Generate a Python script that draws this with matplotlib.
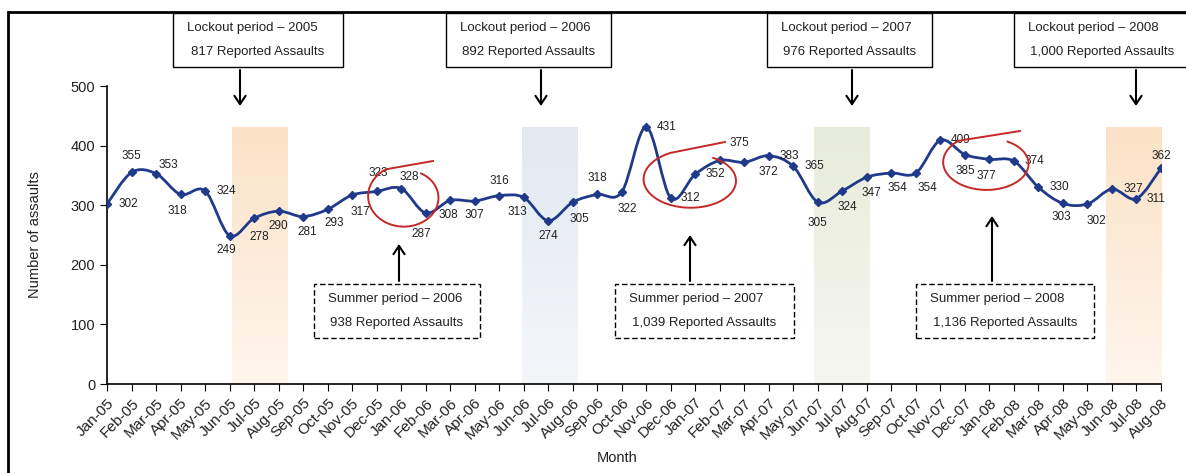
import numpy as np
import matplotlib.pyplot as plt
from matplotlib.path import Path
from matplotlib.patches import PathPatch, Rectangle
from matplotlib.lines import Line2D

plt.rcParams['font.family'] = ['Liberation Sans', 'DejaVu Sans']

W, H = 1186, 473

months = ['Jan-05', 'Feb-05', 'Mar-05', 'Apr-05', 'May-05', 'Jun-05', 'Jul-05', 'Aug-05',
          'Sep-05', 'Oct-05', 'Nov-05', 'Dec-05', 'Jan-06', 'Feb-06', 'Mar-06', 'Apr-06',
          'May-06', 'Jun-06', 'Jul-06', 'Aug-06', 'Sep-06', 'Oct-06', 'Nov-06', 'Dec-06',
          'Jan-07', 'Feb-07', 'Mar-07', 'Apr-07', 'May-07', 'Jun-07', 'Jul-07', 'Aug-07',
          'Sep-07', 'Oct-07', 'Nov-07', 'Dec-07', 'Jan-08', 'Feb-08', 'Mar-08', 'Apr-08',
          'May-08', 'Jun-08', 'Jul-08', 'Aug-08']
assaults = [302, 355, 353, 318, 324, 249, 278, 290, 281, 293, 317, 323, 328, 287, 308, 307,
            316, 313, 274, 305, 318, 322, 431, 312, 352, 375, 372, 383, 365, 305, 324, 347,
            354, 354, 409, 385, 377, 374, 330, 303, 302, 327, 311, 362]

# label offsets (pixels) for each data label
lab_dx = [21, 0, 12, -3, 21, -3, 5, 0, 4, 7, 8, 2, 8, -4, -2, 0, 0, -6, 0, 7, 0, 6,
          20, 20, 20, 20, 24, 20, 21, 0, 5, 5, 6, 12, 20, 0, -3, 20, 21, -2, 9, 21, 19, 0]
lab_dy = [0, 16, 9, -17, 0, -14, -19, -15, -15, -14, -17, 18, 12, -21, -15, -14, 15, -15,
          -15, -17, 16, -17, 0, 0, 0, 18, -10, 0, 0, -21, -16, -16, -15, -15, 0, -16, -17,
          0, 0, -14, -17, 0, 0, 12]

# shaded lockout periods (start index, colour top, colour bottom)
band_start = [5.1, 16.95, 28.83, 40.75]
band_top = ['#fbe2c6', '#e3e8f1', '#e8ecda', '#fbe2c6']
band_bot = ['#fff6ed', '#f4f6fa', '#f6f7f0', '#fff6ed']

lockout_titles = ['Lockout period \u2013 2005', 'Lockout period \u2013 2006',
                  'Lockout period \u2013 2007', 'Lockout period \u2013 2008']
lockout_counts = ['817 Reported Assaults', '892 Reported Assaults',
                  '976 Reported Assaults', '1,000 Reported Assaults']
summer_titles = ['Summer period \u2013 2006', 'Summer period \u2013 2007',
                 'Summer period \u2013 2008']
summer_counts = ['938 Reported Assaults', '1,039 Reported Assaults',
                 '1,136 Reported Assaults']

navy = '#1f3a8a'
txt = '#222222'

fig = plt.figure(figsize=(W / 100, H / 100), dpi=100)
ax = fig.add_axes([107 / W, (H - 384) / H, (1161 - 107) / W, (384 - 86) / H])

x = np.arange(len(assaults))
y = np.array(assaults, dtype=float)

# gradient bands
for s, ct, cb in zip(band_start, band_top, band_bot):
    c0 = np.array(plt.matplotlib.colors.to_rgb(ct))
    c1 = np.array(plt.matplotlib.colors.to_rgb(cb))
    t = np.linspace(0, 1, 100)[:, None]
    img = (c0 * (1 - t) + c1 * t)[:, None, :]
    ax.imshow(img, extent=(s, s + 2.27, 0, 430), aspect='auto', zorder=0,
              interpolation='bilinear')

# smoothed line (bezier through the points, like a spreadsheet smooth line)
pts = np.column_stack([x, y])
ext = np.vstack([pts[0], pts, pts[-1]])
verts = [pts[0]]
codes = [Path.MOVETO]
for i in range(len(pts) - 1):
    p0, p1, p2, p3 = ext[i], ext[i + 1], ext[i + 2], ext[i + 3]
    verts += [p1 + (p2 - p0) / 6, p2 - (p3 - p1) / 6, p2]
    codes += [Path.CURVE4] * 3
ax.add_patch(PathPatch(Path(verts, codes), fill=False, edgecolor=navy, lw=2, zorder=3))
ax.plot(x, y, 'D', color=navy, ms=4.5, zorder=4)

for xi, yi, dx, dy in zip(x, assaults, lab_dx, lab_dy):
    ax.annotate(str(yi), (xi, yi), xytext=(dx, dy), textcoords='offset pixels',
                ha='center', va='center', fontsize=8.5, color=txt, zorder=5)

ax.set_xlim(0, 43)
ax.set_ylim(0, 500)
ax.set_yticks(range(0, 501, 100))
ax.set_xticks(x)
ax.set_xticklabels(months, rotation=45, ha='right', rotation_mode='anchor')
ax.tick_params(axis='x', labelsize=11, length=5, colors='black', labelcolor=txt)
ax.tick_params(axis='y', labelsize=10.5, length=5, colors='black', labelcolor=txt)
for side in ['top', 'right']:
    ax.spines[side].set_visible(False)
for side in ['left', 'bottom']:
    ax.spines[side].set_linewidth(1.2)

fig.text(35 / W, 1 - 235 / H, 'Number of assaults', rotation=90, ha='center', va='center',
         fontsize=10.5, color=txt)
fig.text(617 / W, 1 - 458 / H, 'Month', ha='center', va='center', fontsize=10.5, color=txt)

# outer frame
fig.add_artist(Rectangle((8 / W, -0.1), 1.2, 1.1 - 12 / H, transform=fig.transFigure,
                         fill=False, edgecolor='black', lw=2))


def box(x0, x1, y0, y1, title, count, dashed):
    fig.add_artist(Rectangle((x0 / W, 1 - y1 / H), (x1 - x0) / W, (y1 - y0) / H,
                             transform=fig.transFigure, facecolor='white',
                             edgecolor='black', lw=1.0,
                             linestyle=(0, (4, 2)) if dashed else '-', zorder=6))
    fig.text((x0 + 14) / W, 1 - (y0 + 15) / H, title, ha='left', va='center',
             fontsize=9.5, color=txt, zorder=7)
    fig.text((x0 + x1) / 2 / W, 1 - (y0 + 39) / H, count, ha='center', va='center',
             fontsize=9.5, color=txt, zorder=7)


def arrow(px, y_from, y_to):
    fig.add_artist(plt.matplotlib.patches.FancyArrowPatch(
        (px / W, 1 - y_from / H), (px / W, 1 - y_to / H), transform=fig.transFigure,
        arrowstyle='->,head_length=6,head_width=4', color='black', lw=1.5,
        shrinkA=0, shrinkB=0, zorder=6))


lock_box = [(173, 343), (446, 611), (767, 932), (1014, 1190)]
lock_arrow = [240, 541, 852, 1136]
for (x0, x1), t, c, ax_ in zip(lock_box, lockout_titles, lockout_counts, lock_arrow):
    box(x0, x1, 13, 67, t, c, False)
    arrow(ax_, 70, 106)

sum_box = [(314, 480), (615, 794), (916, 1094)]
sum_arrow = [(399, 244), (690, 235), (992, 216)]
for (x0, x1), t, c, (axx, tip) in zip(sum_box, summer_titles, summer_counts, sum_arrow):
    box(x0, x1, 284, 338, t, c, True)
    arrow(axx, 281, tip)


# red hand-drawn loops
def loop(cx, cy, rx, ry, t0, t1, tail):
    th = np.radians(np.linspace(t0, t1, 120))
    k = np.linspace(1.0, 0.85, 120)
    xs = np.concatenate([[tail[0]], cx + rx * k * np.cos(th)])
    ys = np.concatenate([[tail[1]], cy - ry * k * np.sin(th)])
    fig.add_artist(Line2D(xs / W, 1 - ys / H, transform=fig.transFigure,
                          color='#c62828', lw=1.4, zorder=5))


loop(405, 197, 38, 32, 120, 420, (433, 161))
loop(692, 180, 50, 30, 115, 420, (725, 142))
loop(988, 163, 46, 29, 130, 420, (1020, 131))

fig.savefig('out.png', dpi=100)
